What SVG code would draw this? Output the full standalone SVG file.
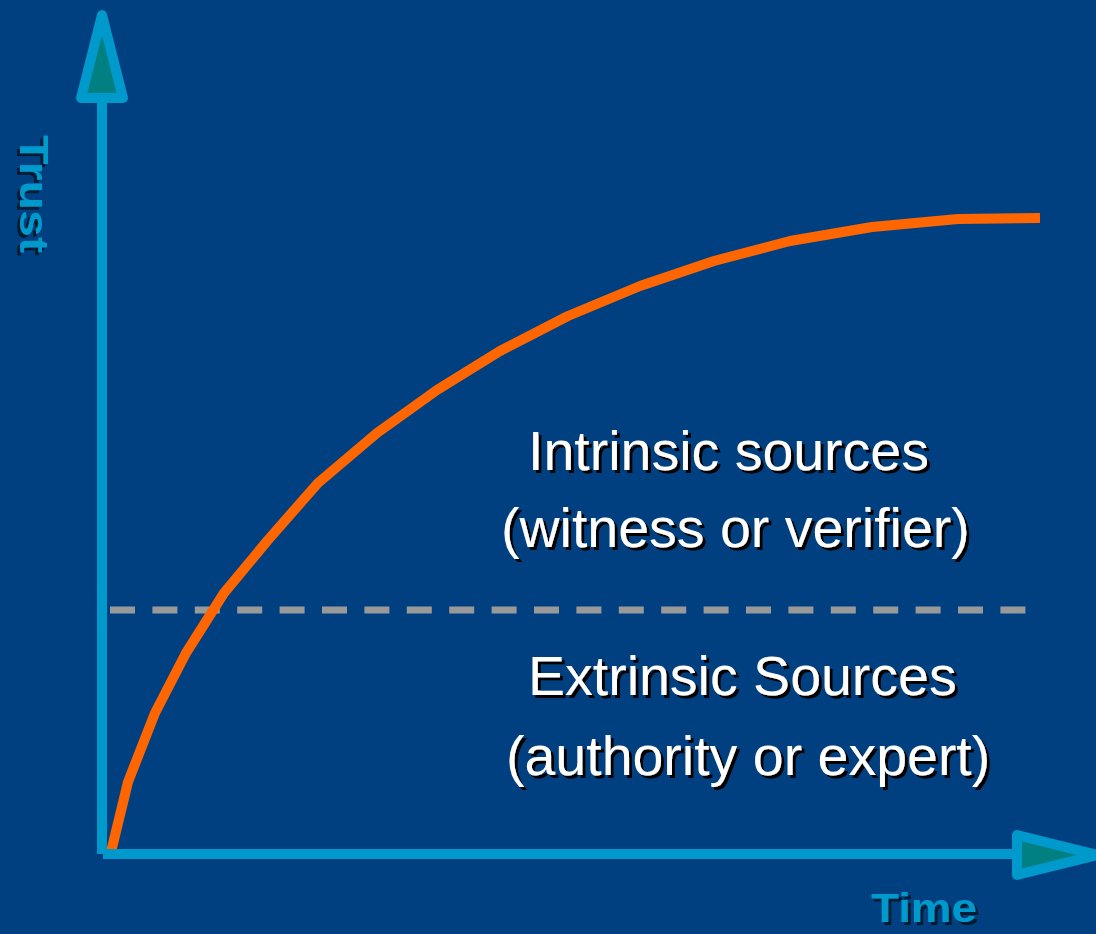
<svg xmlns="http://www.w3.org/2000/svg" width="1096" height="934" viewBox="0 0 1096 934">
  <defs>
    <filter id="shadow-white" x="-5%" y="-20%" width="115%" height="150%">
      <feFlood flood-color="#000000" result="c"/>
      <feComposite in="c" in2="SourceAlpha" operator="in" result="s"/>
      <feOffset in="s" dx="3" dy="2.5" result="o"/>
      <feMerge><feMergeNode in="o"/><feMergeNode in="SourceGraphic"/></feMerge>
    </filter>
    <filter id="shadow-axis" x="-10%" y="-20%" width="125%" height="160%">
      <feFlood flood-color="#001A33" result="c"/>
      <feComposite in="c" in2="SourceAlpha" operator="in" result="s"/>
      <feOffset in="s" dx="2.5" dy="2.5" result="o"/>
      <feMerge><feMergeNode in="o"/><feMergeNode in="SourceGraphic"/></feMerge>
    </filter>
    <style>
      .axis { stroke: #0099CC; stroke-width: 10; fill: none; stroke-linecap: butt; }
      .head { stroke: #0099CC; stroke-width: 10; fill: #008080; stroke-linejoin: round; }
      .axlabel { font-family: "Liberation Sans", Arial, sans-serif; font-weight: bold; font-size: 41px; fill: #0099CC; filter: url(#shadow-axis); }
      .lbl { font-family: "Liberation Sans", Arial, sans-serif; font-size: 55.5px; fill: #FFFFFF; filter: url(#shadow-white); }
    </style>
  </defs>
  <rect x="0" y="0" width="1096" height="934" fill="#004080"/>

  <g id="connectors">
    <line id="divider" x1="110" y1="610" x2="1026" y2="610" stroke="#999999" stroke-width="7" stroke-dasharray="25 17.4"/>
    <polyline id="trust-curve" fill="none" stroke="#FF6600" stroke-width="10" stroke-linejoin="round" stroke-linecap="butt"
      points="111,852 128,782 155,713 186,653 224,593 268,540 318,483 377,433 437,390 500,351 568,316 640,286 714,261 790,241 872,227 958,219 1040,218"/>
  </g>

  <g id="y-axis">
    <line class="axis" x1="102" y1="96" x2="102" y2="854"/>
    <polygon class="head" points="102,15 81,98 123,98"/>
  </g>

  <g id="x-axis">
    <line class="axis" x1="103" y1="854" x2="1020" y2="854"/>
    <polygon class="head" points="1017,835 1017,875 1097,855"/>
  </g>

  <g id="label-trust" transform="translate(20,135) rotate(90)">
    <text class="axlabel" x="0" y="0" textLength="118" lengthAdjust="spacingAndGlyphs">Trust</text>
  </g>

  <g id="label-time">
    <text class="axlabel" x="871" y="922" textLength="106" lengthAdjust="spacingAndGlyphs">Time</text>
  </g>

  <g id="label-intrinsic">
    <text class="lbl" x="528" y="470">Intrinsic sources</text>
    <text class="lbl" x="501" y="547">(witness or verifier)</text>
  </g>

  <g id="label-extrinsic">
    <text class="lbl" x="528" y="695">Extrinsic Sources</text>
    <text class="lbl" x="506" y="775">(authority or expert)</text>
  </g>
</svg>
